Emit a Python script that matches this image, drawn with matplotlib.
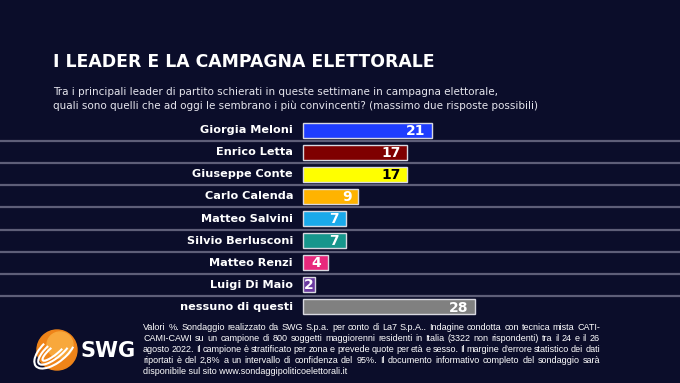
import matplotlib.pyplot as plt
from matplotlib.patches import Circle, Arc

# Data
leaders = ["Giorgia Meloni", "Enrico Letta", "Giuseppe Conte", "Carlo Calenda",
           "Matteo Salvini", "Silvio Berlusconi", "Matteo Renzi", "Luigi Di Maio",
           "nessuno di questi"]
values = [21, 17, 17, 9, 7, 7, 4, 2, 28]
colors = ["#1f3dff", "#7f0000", "#ffff00", "#ffb300", "#1aa9ea",
          "#17968c", "#e8287c", "#6b3aa0", "#808080"]
value_colors = ["white", "white", "black", "white", "white",
                "white", "white", "white", "white"]

title = "I LEADER E LA CAMPAGNA ELETTORALE"
subtitle = ["Tra i principali leader di partito schierati in queste settimane in campagna elettorale,",
            "quali sono quelli che ad oggi le sembrano i più convincenti? (massimo due risposte possibili)"]
footer = [
    "Valori %. Sondaggio realizzato da SWG S.p.a. per conto di La7 S.p.A.. Indagine condotta con tecnica mista CATI-",
    "CAMI-CAWI su un campione di 800 soggetti maggiorenni residenti in Italia (3322 non rispondenti) tra il 24 e il 26",
    "agosto 2022. Il campione è stratificato per zona e prevede quote per età e sesso. Il margine d'errore statistico dei dati",
    "riportati è del 2,8% a un intervallo di confidenza del 95%. Il documento informativo completo del sondaggio sarà",
    "disponibile sul sito www.sondaggipoliticoelettorali.it",
]

bg = "#0b0d2a"
W, H = 680, 383
fig = plt.figure(figsize=(W / 100, H / 100), dpi=100, facecolor=bg)
renderer = fig.canvas.get_renderer()

# header
fig.text(53 / W, 1 - 62 / H, title, color="white", fontsize=12.4, fontweight="bold",
         va="center", ha="left")
for i, line in enumerate(subtitle):
    fig.text(53 / W, 1 - (92 + 14 * i) / H, line, color="#e6e6ee", fontsize=7.5,
             va="center", ha="left")

# bar area: full width axes, x=0 at pixel 303
px_per_unit = 6.14
x0_px = 303
top_px, bot_px = 119, 318
ax = fig.add_axes([0, 1 - bot_px / H, 1, (bot_px - top_px) / H])
ax.set_facecolor(bg)
ax.set_xlim(-x0_px / px_per_unit, (W - x0_px) / px_per_unit)
n = len(leaders)
ax.set_ylim(n - 0.5, -0.5)
ax.axis("off")

ypos = list(range(n))
ax.barh(ypos, values, height=0.68, color=colors, edgecolor="#d8d8e0", linewidth=1.0)

for i in range(n - 1):
    ax.axhline(i + 0.5, color="#5e5e78", linewidth=1.6)

for y, name, v, vc in zip(ypos, leaders, values, value_colors):
    ax.text(-10 / px_per_unit, y, name, color="white", fontsize=8.1, fontweight="bold",
            ha="right", va="center")
    if v < 3:
        ax.text(v / 2, y + 0.03, str(v), color=vc, fontsize=10, fontweight="bold",
                ha="center", va="center")
    else:
        ax.text(v - 1.1, y + 0.03, str(v), color=vc, fontsize=10, fontweight="bold",
                ha="right", va="center")

# SWG logo
lax = fig.add_axes([25 / W, 1 - 378 / H, 120 / W, 58 / H])
lax.set_xlim(0, 120)
lax.set_ylim(0, 58)
lax.set_aspect("equal")
lax.axis("off")
lax.add_patch(Circle((32, 28), 20, color="#ef8419"))
lax.add_patch(Circle((35, 33), 13, color="#f8a83c"))
for w, h in [(50, 24), (42, 15), (32, 8)]:
    lax.add_patch(Arc((30, 28), w, h, angle=40, theta1=110, theta2=330,
                      color="white", linewidth=1.5))
lax.text(56, 27, "SWG", color="white", fontsize=15, fontweight="bold",
         ha="left", va="center")

# footer, justified between x=143 and x=600
left, right = 143, 600
ffont = dict(color="white", fontsize=6.45, family="Liberation Sans", va="center", ha="left")
for i, line in enumerate(footer):
    yy = 1 - (327 + 11.2 * i) / H
    if i == len(footer) - 1:
        fig.text(left / W, yy, line, **ffont)
        continue
    words = line.split(" ")
    texts = [fig.text(0, yy, w, **ffont) for w in words]
    widths = [t.get_window_extent(renderer).width for t in texts]
    gap = (right - left - sum(widths)) / (len(words) - 1)
    x = left
    for t, wd in zip(texts, widths):
        t.set_x(x / W)
        x += wd + gap

fig.savefig("out.png", dpi=100, facecolor=bg)
